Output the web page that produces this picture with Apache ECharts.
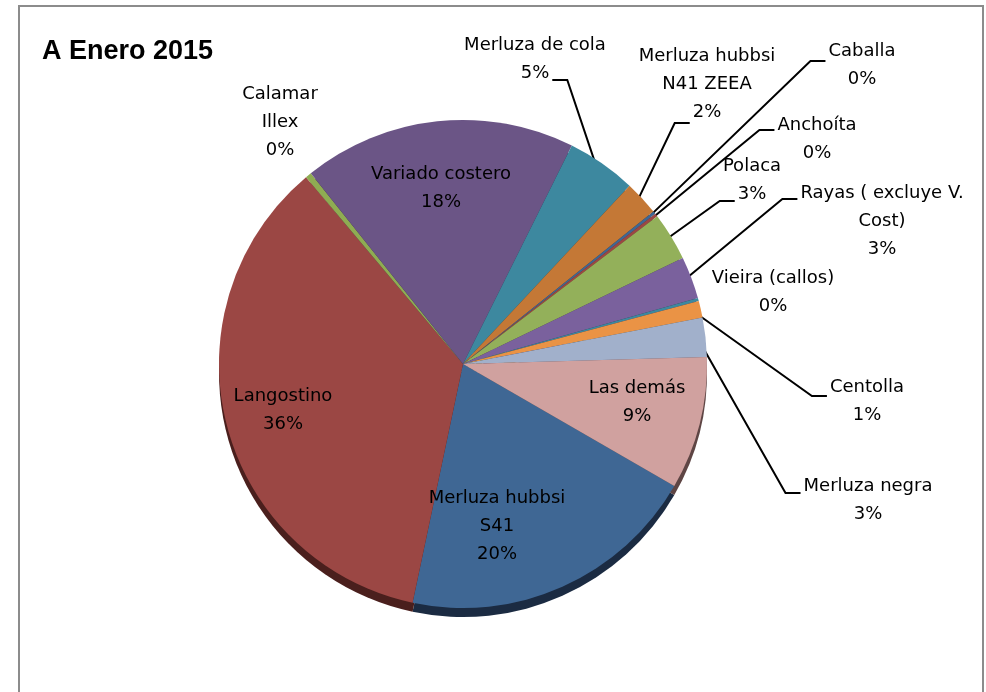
<!DOCTYPE html>
<html>
<head>
<meta charset="utf-8">
<script src="https://cdn.jsdelivr.net/npm/echarts@6/dist/echarts.min.js"></script>
<style>
  html, body { margin: 0; padding: 0; background: #fff; }
  #main { width: 986px; height: 692px; }
</style>
</head>
<body>
<div id="main"></div>
<script>
// categorias (en el orden de la hoja, sentido horario)
var categories = ['Merluza hubbsi S41', 'Langostino', 'Calamar Illex', 'Variado costero',
  'Merluza de cola', 'Merluza hubbsi N41 ZEEA', 'Caballa', 'Anchoíta', 'Polaca',
  'Rayas ( excluye V. Cost)', 'Vieira (callos)', 'Centolla', 'Merluza negra', 'Las demás'];
// texto de las etiquetas como aparece en el grafico
var labelNames = ['Merluza hubbsi\nS41', 'Langostino', 'Calamar\nIllex', 'Variado costero',
  'Merluza de cola', 'Merluza hubbsi\nN41 ZEEA', 'Caballa', 'Anchoíta', 'Polaca',
  'Rayas ( excluye V.\nCost)', 'Vieira (callos)', 'Centolla', 'Merluza negra', 'Las demás'];
// participacion (%)
var values = [20.0, 35.6, 0.4, 18.1, 4.6, 2.3, 0.2, 0.2, 3.2, 2.8, 0.2, 1.1, 2.6, 8.8];

var colors = ['#3f6794', '#9b4744', '#8fac52', '#6b5586', '#3d889f', '#c47836', '#3f6794',
  '#9b4744', '#93b05a', '#7a619d', '#3d889f', '#ea9345', '#a1b0cb', '#d0a19f'];
var rimColors = ['#1b2b42', '#4a1f1d', '#3f4d22', '#2f2540', '#1a3d48', '#5a3517', '#1b2b42',
  '#4a1f1d', '#44522a', '#352a47', '#1a3d48', '#6a4219', '#4a5267', '#5e4544'];

var insideLabels = ['Merluza hubbsi S41', 'Langostino', 'Variado costero', 'Las demás'];

// ubicacion de cada etiqueta (centro del bloque)
var labelPos = {
  'Merluza hubbsi S41': [497, 526],
  'Langostino': [283, 410],
  'Calamar Illex': [280, 122],
  'Variado costero': [441, 188],
  'Merluza de cola': [535, 59],
  'Merluza hubbsi N41 ZEEA': [707, 84],
  'Caballa': [862, 65],
  'Anchoíta': [817, 139],
  'Polaca': [752, 180],
  'Rayas ( excluye V. Cost)': [882, 221],
  'Vieira (callos)': [773, 292],
  'Centolla': [867, 401],
  'Merluza negra': [868, 500],
  'Las demás': [637, 402]
};
// lado, renglon y desplazamiento vertical donde llega la guia
var lineAnchor = {
  'Merluza de cola': ['r', 1, 7],
  'Merluza hubbsi N41 ZEEA': ['l', 2, 11],
  'Caballa': ['l', 0, 10],
  'Anchoíta': ['l', 0, 5],
  'Polaca': ['l', 1, 7],
  'Rayas ( excluye V. Cost)': ['l', 0, 6],
  'Centolla': ['l', 0, 9],
  'Merluza negra': ['l', 0, 7]
};

var LH = 28;
var FONT = '18px "DejaVu Sans"';
var ctx = document.createElement('canvas').getContext('2d');
ctx.font = FONT;

var pieData = categories.map(function (c, i) {
  var inside = insideLabels.indexOf(c) >= 0;
  return {
    name: c,
    value: values[i],
    itemStyle: { color: colors[i] },
    label: { position: inside ? 'inside' : 'outside' },
    labelLine: { show: !inside && lineAnchor[c] != null }
  };
});
var rimData = categories.map(function (c, i) {
  return { name: c, value: values[i], itemStyle: { color: rimColors[i] } };
});

function labelText(i, pct) {
  return labelNames[i] + '\n' + Math.round(pct) + '%';
}

var chart = echarts.init(document.getElementById('main'));
chart.setOption({
  animation: false,
  title: {
    text: 'A Enero 2015',
    left: 37,
    top: 33,
    textStyle: { fontFamily: 'Liberation Sans', fontWeight: 'bold', fontSize: 27, color: '#000' }
  },
  graphic: [{
    type: 'rect',
    shape: { x: 19, y: 6, width: 964, height: 700 },
    style: { fill: 'none', stroke: '#8c8c8c', lineWidth: 2 },
    z: -10
  }],
  series: [
    {
      name: 'borde',
      type: 'pie',
      silent: true,
      center: [463, 373],
      radius: 244,
      startAngle: -30,
      z: 1,
      label: { show: false },
      labelLine: { show: false },
      itemStyle: { borderWidth: 0 },
      data: rimData
    },
    {
      name: 'A Enero 2015',
      type: 'pie',
      center: [463, 364],
      radius: 244,
      startAngle: -30,
      z: 2,
      avoidLabelOverlap: false,
      itemStyle: { borderWidth: 0 },
      label: {
        show: true,
        color: '#000',
        fontFamily: 'DejaVu Sans',
        fontSize: 18,
        lineHeight: LH,
        align: 'center',
        formatter: function (p) {
          return labelText(p.dataIndex, p.percent);
        }
      },
      labelLine: {
        length: 10,
        length2: 10,
        lineStyle: { color: '#000', width: 2 }
      },
      labelLayout: function (params) {
        var name = categories[params.dataIndex];
        var pos = labelPos[name];
        var out = { x: pos[0], y: pos[1], align: 'center', verticalAlign: 'middle' };
        var anc = lineAnchor[name];
        var pts = params.labelLinePoints;
        if (anc && pts) {
          var h = params.labelRect.height;
          var top = pos[1] - h / 2;
          var lines = params.text.split('\n');
          var lw = ctx.measureText(lines[anc[1]]).width;
          var ex = anc[0] === 'r' ? pos[0] + lw / 2 + 3 : pos[0] - lw / 2 - 3;
          var ey = top + LH * (anc[1] + 0.5) + anc[2];
          var bx = anc[0] === 'r' ? ex + 15 : ex - 15;
          // la guia empieza un poco dentro del sector
          var dx = pts[1][0] - pts[0][0], dy = pts[1][1] - pts[0][1];
          var d = Math.sqrt(dx * dx + dy * dy) || 1;
          var sx = pts[0][0] - dx / d * 8, sy = pts[0][1] - dy / d * 8;
          out.labelLinePoints = [[sx, sy], [bx, ey], [ex, ey]];
        }
        return out;
      },
      data: pieData
    }
  ]
});
</script>
</body>
</html>
